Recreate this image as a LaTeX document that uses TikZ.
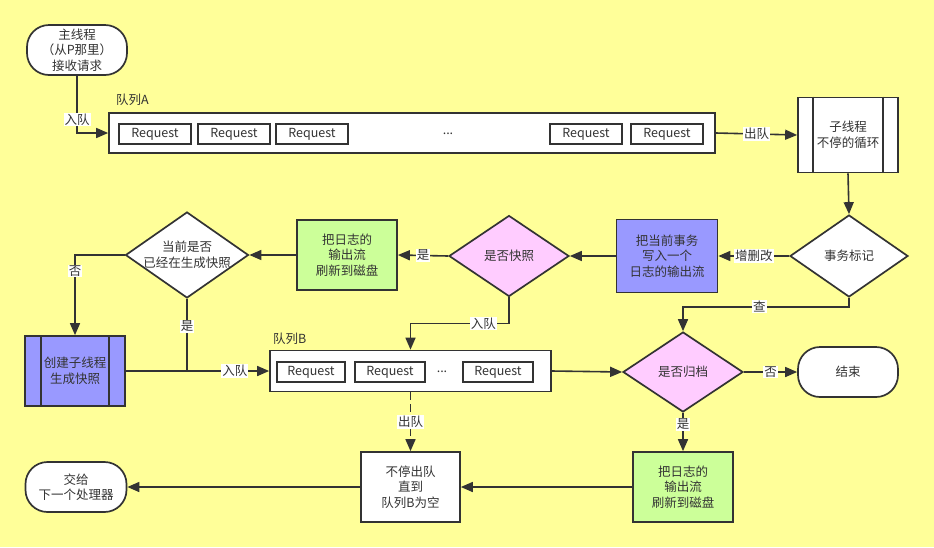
\documentclass[tikz,border=0pt]{standalone}
\usepackage{fontspec}
\setmainfont{Noto Sans CJK SC}
\usetikzlibrary{arrows.meta,shapes.geometric}
\definecolor{bgyellow}{RGB}{255,255,153}
\definecolor{boxblue}{RGB}{153,153,255}
\definecolor{boxpink}{RGB}{255,204,255}
\definecolor{boxgreen}{RGB}{204,255,153}
\definecolor{ink}{RGB}{51,51,51}
\begin{document}
\begin{tikzpicture}[x=1pt,y=-1pt,
  every node/.style={font=\fontsize{12.5}{15.5}\selectfont, text=ink},
  box/.style={draw=ink, line width=1.7pt, rectangle, align=center, inner sep=0pt},
  term/.style={box, fill=white, rounded corners=22pt},
  reqbox/.style={draw=ink, line width=1.7pt, fill=white, minimum width=72pt, minimum height=20pt, inner sep=0pt},
  dia/.style={draw=ink, line width=1.7pt, diamond, inner sep=0pt},
  conn/.style={draw=ink, line width=1.6pt, -{Triangle[length=12pt,width=10pt]}},
  plain/.style={draw=ink, line width=1.6pt},
  elabel/.style={fill=white, inner sep=1pt},
  qlabel/.style={anchor=west, inner sep=0pt}
]
\useasboundingbox[fill=bgyellow] (0,0) rectangle (934,547);

% start
\node[term, minimum width=100pt, minimum height=50pt] (start) at (77,50) {主线程\\（从P那里）\\接收请求};

% queue A
\node[box, fill=white, minimum width=606pt, minimum height=40pt] (qA) at (412,133) {};
\node[qlabel] (qAl) at (116,100) {队列A};
\node[reqbox] (ra1) at (155,134) {Request};
\node[reqbox] (ra2) at (234,134) {Request};
\node[reqbox] (ra3) at (312,134) {Request};
\node (radots) at (448,134) {...};
\node[reqbox] (ra4) at (586,134) {Request};
\node[reqbox] (ra5) at (667,134) {Request};

% sub thread (predefined process)
\node[box, fill=white, minimum width=100pt, minimum height=75pt] (sub) at (848,135) {子线程\\不停的循环};
\draw[ink, line width=1.7pt] ([xshift=16pt]sub.north west) -- ([xshift=16pt]sub.south west);
\draw[ink, line width=1.7pt] ([xshift=-16pt]sub.north east) -- ([xshift=-16pt]sub.south east);

% decision: transaction mark
\node[dia, fill=white, minimum width=118pt, minimum height=82pt, label={[align=center]center:事务标记}] (d1) at (849,256) {};

% write to log stream
\node[box, fill=boxblue, minimum width=101pt, minimum height=73pt] (blue1) at (667,256) {把当前事务\\写入一个\\日志的输出流};

% decision: snapshot?
\node[dia, fill=boxpink, minimum width=120pt, minimum height=81pt, label={[align=center]center:是否快照}] (d2) at (509,256) {};

% flush log
\node[box, fill=boxgreen, minimum width=100pt, minimum height=70pt] (green1) at (347,255) {把日志的\\输出流\\刷新到磁盘};

% decision: generating snapshot?
\node[dia, fill=white, minimum width=123pt, minimum height=86pt, label={[align=center]center:当前是否\\已经在生成快照}] (d3) at (187,255) {};

% create sub thread (predefined process)
\node[box, fill=boxblue, minimum width=100pt, minimum height=70pt] (blue2) at (75,371) {创建子线程\\生成快照};
\draw[ink, line width=1.7pt] ([xshift=17pt]blue2.north west) -- ([xshift=17pt]blue2.south west);
\draw[ink, line width=1.7pt] ([xshift=-17pt]blue2.north east) -- ([xshift=-17pt]blue2.south east);

% queue B
\node[box, fill=white, minimum width=281pt, minimum height=41pt] (qB) at (410.5,371) {};
\node[qlabel] (qBl) at (273,339) {队列B};
\node[reqbox, minimum width=68pt] (rb1) at (311,372) {Request};
\node[reqbox, minimum width=70pt] (rb2) at (390,372) {Request};
\node (rbdots) at (442,372) {...};
\node[reqbox, minimum width=70pt] (rb3) at (498,372) {Request};

% decision: archive?
\node[dia, fill=boxpink, minimum width=120pt, minimum height=80pt, label={[align=center]center:是否归档}] (d4) at (683,372) {};

% end
\node[term, minimum width=100pt, minimum height=50pt] (end) at (848,372) {结束};

% flush log 2
\node[box, fill=boxgreen, minimum width=100pt, minimum height=70pt] (green2) at (683,487) {把日志的\\输出流\\刷新到磁盘};

% dequeue until empty
\node[box, fill=white, minimum width=99pt, minimum height=70pt] (deq) at (410.5,487) {不停出队\\直到\\队列B为空};

% next handler
\node[term, minimum width=101pt, minimum height=50pt] (next) at (76,487) {交给\\下一个处理器};

% connectors
\draw[conn] (start.south) |- node[elabel, pos=0.38] {入队} (qA.west);
\draw[conn] (qA.east) -- node[elabel] {出队} (sub.west);
\draw[conn] (sub.south) -- (d1.north);
\draw[conn] (d1.west) -- node[elabel] {增删改} (blue1.east);
\draw[conn] (blue1.west) -- (d2.east);
\draw[conn] (d2.west) -- node[elabel] {是} (green1.east);
\draw[conn] (green1.west) -- (d3.east);
\draw[conn] (d3.west) -| node[elabel, pos=0.6] {否} (blue2.north);
\coordinate (j1) at (d3.south |- blue2.east);
\draw[plain] (d3.south) -- node[elabel, pos=0.38] {是} (j1);
\draw[conn] (blue2.east) -- node[elabel, pos=0.76] {入队} (qB.west);
\coordinate (k1) at ([yshift=-26pt]d2.south);
\draw[conn] (d2.south) -- (k1) -| node[elabel, pos=0.13] {入队} (qB.north);
\draw[conn] (qB.east) -- (d4.west);
\coordinate (k2) at ([yshift=-9pt]d1.south);
\draw[conn] (d1.south) -- (k2) -| node[elabel, pos=0.27] {查} (d4.north);
\draw[conn] (d4.east) -- node[elabel, pos=0.5] {否} (end.west);
\draw[conn] (d4.south) -- node[elabel, pos=0.3] {是} (green2.north);
\draw[conn] (green2.west) -- (deq.east);
\draw[conn, dash pattern=on 8pt off 4pt] (qB.south) -- node[elabel, pos=0.5] {出队} (deq.north);
\draw[conn] (deq.west) -- (next.east);
\end{tikzpicture}
\end{document}
